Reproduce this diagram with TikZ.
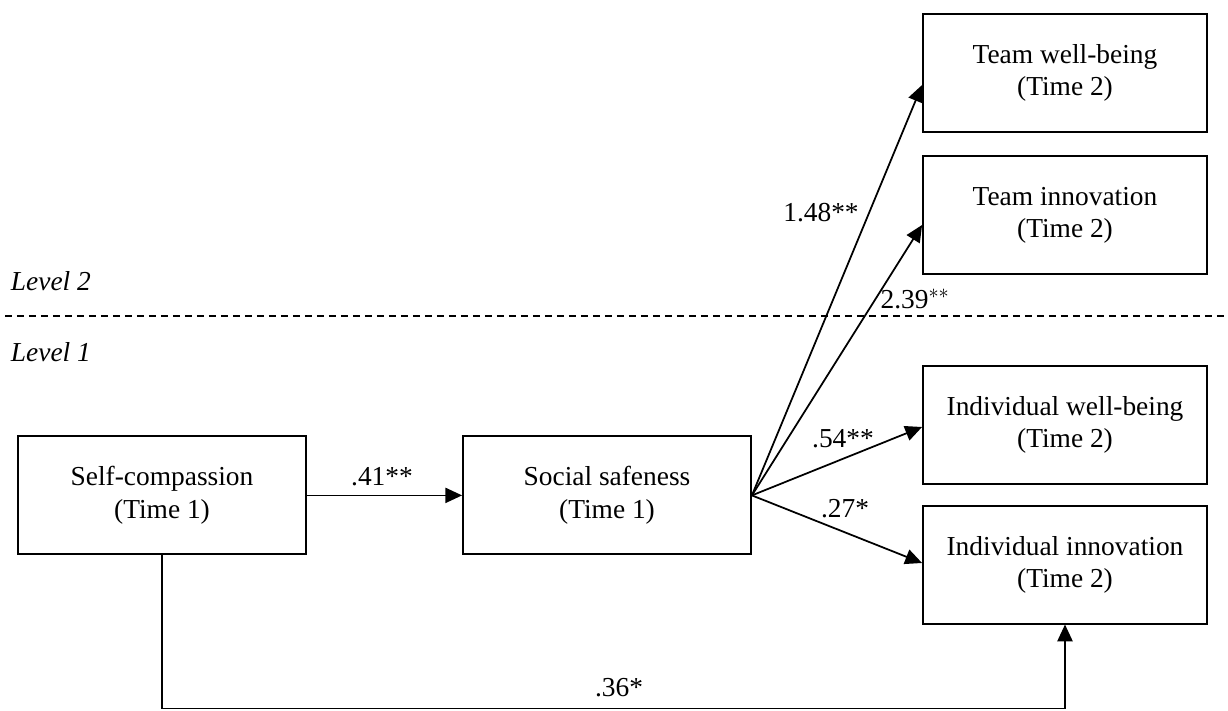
\documentclass[tikz,border=0pt]{standalone}
\usepackage{fontspec}
\setmainfont{Liberation Serif}
\usetikzlibrary{positioning, calc}
\usetikzlibrary{arrows.meta}

\tikzset{
  var/.style={draw, line width=1.3pt, minimum width=7.1cm, minimum height=2.95cm, align=center, inner sep=0pt},
  path/.style={line width=1.25pt, -{Triangle[length=0.42cm, width=0.38cm]}},
  coef/.style={inner sep=1pt}
}

\begin{document}
\begin{tikzpicture}[font=\fontsize{19.5pt}{23pt}\selectfont]

% Manually size the picture
\useasboundingbox (0, 0) rectangle (30.7, 17.775);

% Level 2 variables
\node[var] (twb) at (26.625, 15.95) {Team well-being\\(Time 2)};
\node[var] (tin) at (26.625, 12.39) {Team innovation\\(Time 2)};

% Level split
\node[anchor=west] (lvltwo) at (0.15, 10.75) {\itshape Level 2};
\coordinate (split) at (0.125, 9.875);
\coordinate (splitend) at (30.7, 9.875);
\draw[line width=1pt, dash pattern=on 0.18cm off 0.12cm] (split) -- (splitend);
\node[anchor=west] (lvlone) at (0.15, 8.975) {\itshape Level 1};

% Level 1 variables
\node[var, minimum width=7.2cm] (sc) at (4.05, 5.39) {Self-compassion\\(Time 1)};
\node[var, minimum width=7.2cm] (ss) at (15.175, 5.39) {Social safeness\\(Time 1)};
\node[var] (iwb) at (26.625, 7.15) {Individual well-being\\(Time 2)};
\node[var] (iin) at (26.625, 3.66) {Individual innovation\\(Time 2)};

% Self-compassion to social safeness
\draw[path] (sc.east) -- (ss.west);
\node[coef] (c41) at (9.55, 5.85) {.41**};

% Fan out of social safeness
\draw[path] (ss.east) -- ([yshift=-0.3cm]twb.west);
\draw[path] (ss.east) -- ([yshift=-0.24cm]tin.west);
\draw[path] (ss.east) -- ([yshift=-0.05cm]iwb.west);
\draw[path] (ss.east) -- ([yshift=0.04cm]iin.west);
\node[coef] (c148) at (20.525, 12.45) {1.48**};
\node[coef] (c239) at (22.875, 10.3) {2.39$^{**}$};
\node[coef] (c54) at (21.075, 6.8) {.54**};
\node[coef] (c27) at (21.125, 5.05) {.27*};

% Direct path along the bottom
\coordinate (low) at (4.05, 0.06);
\draw[path] (sc.south) -- (low) -| (iin.south);
\node[coef] (c36) at (15.475, 0.58) {.36*};

\end{tikzpicture}
\end{document}
